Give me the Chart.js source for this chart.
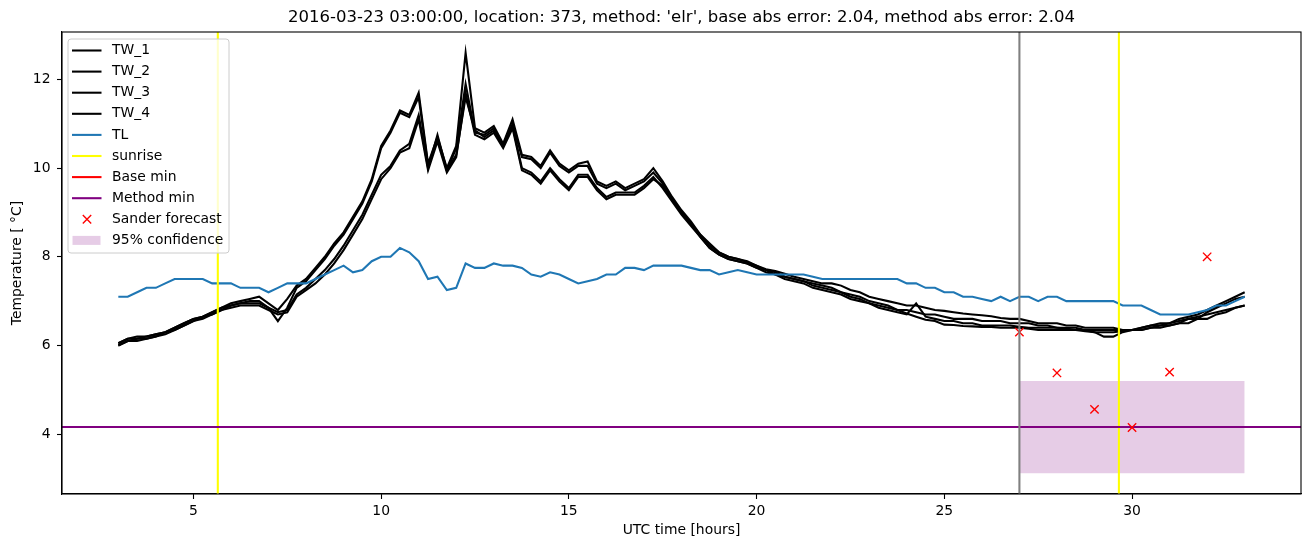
<!DOCTYPE html>
<html>
<head>
<meta charset="utf-8">
<script src="https://cdn.jsdelivr.net/npm/chart.js@4.4.1/dist/chart.umd.min.js"></script>
<style>
  body { margin: 0; background: #fff; }
  #chart { display: block; }
</style>
</head>
<body>
<canvas id="chart" width="1310" height="547"></canvas>
<script>
// sampling grid, every 15 minutes from 03:00 to 33:00
const hours = Array.from({ length: 121 }, (_, i) => 3 + i * 0.25);

const tw1 = [
  6.05, 6.15, 6.15, 6.2,   6.25, 6.3, 6.4, 6.5,    6.6, 6.65, 6.75, 6.85,
  6.95, 7.0, 7.05, 7.1,    6.95, 6.8, 7.05, 7.35,  7.5, 7.75, 8.0, 8.3,
  8.55, 8.9, 9.25, 9.75,   10.5, 10.85, 11.3, 11.2, 11.7, 10.1, 10.7, 10.0,
  10.5, 12.6, 10.9, 10.8,  10.95, 10.55, 11.1, 10.3, 10.25, 10.05, 10.4, 10.1,
  9.95, 10.1, 10.15, 9.7,  9.6, 9.7, 9.55, 9.65,   9.75, 10.0, 9.7, 9.35,
  9.05, 8.8, 8.5, 8.25,    8.1, 8.0, 7.95, 7.88,   7.8, 7.72, 7.68, 7.62,
  7.55, 7.5, 7.45, 7.4,    7.4, 7.35, 7.25, 7.2,   7.1, 7.05, 7.0, 6.95,
  6.9, 6.9, 6.85, 6.8,     6.78, 6.75, 6.72, 6.7,  6.68, 6.66, 6.62, 6.6,
  6.6, 6.55, 6.5, 6.5,     6.5, 6.45, 6.45, 6.4,   6.4, 6.4, 6.4, 6.35,
  6.35, 6.4, 6.45, 6.5,    6.5, 6.6, 6.65, 6.7,    6.8, 6.9, 7.0, 7.1,
  7.2
];
const tw2 = [
  6.0, 6.1, 6.15, 6.15,    6.2, 6.3, 6.35, 6.45,   6.55, 6.65, 6.7, 6.8,
  6.9, 6.95, 7.0, 7.0,     6.85, 6.55, 6.85, 7.3,  7.45, 7.7, 7.95, 8.25,
  8.5, 8.85, 9.2, 9.7,     10.45, 10.8, 11.25, 11.15, 11.6, 10.05, 10.65, 9.95,
  10.45, 11.9, 10.8, 10.75, 10.9, 10.5, 11.0, 10.25, 10.2, 10.0, 10.35, 10.05,
  9.9, 10.05, 10.05, 9.65, 9.55, 9.65, 9.5, 9.6,   9.7, 9.9, 9.65, 9.3,
  9.0, 8.75, 8.45, 8.2,    8.05, 7.95, 7.9, 7.85,  7.75, 7.7, 7.6, 7.55,
  7.5, 7.45, 7.4, 7.35,    7.3, 7.2, 7.15, 7.1,    7.0, 6.95, 6.9, 6.8,
  6.8, 6.75, 6.7, 6.7,     6.65, 6.6, 6.6, 6.6,    6.55, 6.55, 6.55, 6.5,
  6.5, 6.5, 6.45, 6.45,    6.4, 6.4, 6.4, 6.35,    6.3, 6.2, 6.2, 6.3,
  6.35, 6.35, 6.4, 6.45,   6.45, 6.5, 6.6, 6.6,    6.75, 6.85, 6.95, 7.05,
  7.1
];
const tw3 = [
  6.05, 6.15, 6.2, 6.2,    6.25, 6.3, 6.4, 6.5,    6.6, 6.65, 6.75, 6.85,
  6.9, 6.95, 6.95, 6.95,   6.85, 6.75, 6.8, 7.15,  7.3, 7.5, 7.7, 7.95,
  8.25, 8.6, 8.95, 9.4,    9.85, 10.05, 10.4, 10.55, 11.2, 10.0, 10.75, 9.95,
  10.3, 11.6, 10.85, 10.7, 10.85, 10.5, 10.95, 10.0, 9.9, 9.7, 10.0, 9.75,
  9.55, 9.85, 9.85, 9.55,  9.35, 9.45, 9.45, 9.45, 9.6, 9.8, 9.55, 9.25,
  8.95, 8.7, 8.45, 8.2,    8.05, 7.95, 7.9, 7.85,  7.75, 7.65, 7.6, 7.5,
  7.45, 7.4, 7.3, 7.25,    7.2, 7.15, 7.05, 7.0,   6.95, 6.85, 6.8, 6.75,
  6.7, 6.95, 6.65, 6.6,    6.55, 6.55, 6.5, 6.5,   6.45, 6.45, 6.45, 6.45,
  6.42, 6.4, 6.4, 6.4,     6.4, 6.38, 6.35, 6.35,  6.35, 6.35, 6.35, 6.35,
  6.35, 6.35, 6.4, 6.4,    6.45, 6.5, 6.5, 6.6,    6.6, 6.7, 6.75, 6.85,
  6.9
];
const tw4 = [
  6.0, 6.1, 6.1, 6.15,     6.2, 6.25, 6.35, 6.45,  6.55, 6.6, 6.7, 6.8,
  6.85, 6.9, 6.9, 6.9,     6.8, 6.7, 6.75, 7.1,    7.25, 7.4, 7.6, 7.85,
  8.15, 8.5, 8.85, 9.3,    9.75, 10.0, 10.35, 10.45, 11.1, 9.95, 10.6, 9.9,
  10.25, 11.7, 10.75, 10.65, 10.8, 10.45, 10.9, 9.95, 9.85, 9.65, 9.95, 9.7,
  9.5, 9.8, 9.8, 9.5,      9.3, 9.4, 9.4, 9.4,     9.55, 9.75, 9.6, 9.3,
  9.0, 8.75, 8.5, 8.3,     8.1, 8.0, 7.95, 7.9,    7.8, 7.7, 7.65, 7.55,
  7.5, 7.45, 7.35, 7.3,    7.25, 7.2, 7.1, 7.05,   6.95, 6.9, 6.85, 6.8,
  6.72, 6.65, 6.58, 6.55,  6.47, 6.46, 6.44, 6.43, 6.42, 6.42, 6.4, 6.4,
  6.4, 6.38, 6.35, 6.35,   6.35, 6.35, 6.35, 6.32, 6.3, 6.3, 6.3, 6.32,
  6.35, 6.4, 6.45, 6.45,   6.5, 6.55, 6.6, 6.65,   6.7, 6.75, 6.8, 6.85,
  6.9
];
const tl = [
  7.1, 7.1, 7.2, 7.3,      7.3, 7.4, 7.5, 7.5,     7.5, 7.5, 7.4, 7.4,
  7.4, 7.3, 7.3, 7.3,      7.2, 7.3, 7.4, 7.4,     7.4, 7.5, 7.6, 7.7,
  7.8, 7.65, 7.7, 7.9,     8.0, 8.0, 8.2, 8.1,     7.9, 7.5, 7.55, 7.25,
  7.3, 7.85, 7.75, 7.75,   7.85, 7.8, 7.8, 7.75,   7.6, 7.55, 7.65, 7.6,
  7.5, 7.4, 7.45, 7.5,     7.6, 7.6, 7.75, 7.75,   7.7, 7.8, 7.8, 7.8,
  7.8, 7.75, 7.7, 7.7,     7.6, 7.65, 7.7, 7.65,   7.6, 7.6, 7.6, 7.6,
  7.6, 7.6, 7.55, 7.5,     7.5, 7.5, 7.5, 7.5,     7.5, 7.5, 7.5, 7.5,
  7.4, 7.4, 7.3, 7.3,      7.2, 7.2, 7.1, 7.1,     7.05, 7.0, 7.1, 7.0,
  7.1, 7.1, 7.0, 7.1,      7.1, 7.0, 7.0, 7.0,     7.0, 7.0, 7.0, 6.9,
  6.9, 6.9, 6.8, 6.7,      6.7, 6.7, 6.7, 6.75,    6.8, 6.9, 6.9, 7.0,
  7.1
];

const sunrise = [5.65, 29.65];
const forecastTime = 27;
const baseMin = 4.16;
const methodMin = 4.16;
const sanderHours = [27, 28, 29, 30, 31, 32];
const sanderValues = [6.3, 5.38, 4.56, 4.15, 5.4, 8.0];
const confHours = [27, 33];
const confLow = 3.12;
const confHigh = 5.2;

const xMin = 1.5, xMax = 34.5;
const yMin = 2.65, yMax = 13.07;
const xTicks = [5, 10, 15, 20, 25, 30];
const yTicks = [4, 6, 8, 10, 12];

const FONT = "'DejaVu Sans', sans-serif";
const LW = 2.08;
const pts = arr => hours.map((h, i) => ({ x: h, y: arr[i] }));
const vline = x => [{ x: x, y: yMin }, { x: x, y: yMax }];
const hline = y => [{ x: xMin, y: y }, { x: xMax, y: y }];

const datasets = [
  { label: "TW_1", data: pts(tw1), borderColor: "#000", legend: "line" },
  { label: "TW_2", data: pts(tw2), borderColor: "#000", legend: "line" },
  { label: "TW_3", data: pts(tw3), borderColor: "#000", legend: "line" },
  { label: "TW_4", data: pts(tw4), borderColor: "#000", legend: "line" },
  { label: "TL", data: pts(tl), borderColor: "#1f77b4", legend: "line" },
  { label: "sunrise", data: vline(sunrise[0]), borderColor: "#ffff00", legend: "line" },
  { label: "", data: vline(sunrise[1]), borderColor: "#ffff00" },
  { label: "Base min", data: hline(baseMin), borderColor: "#ff0000", legend: "line" },
  { label: "Method min", data: hline(methodMin), borderColor: "#800080", legend: "line" },
  { label: "Sander forecast", data: sanderHours.map((h, i) => ({ x: h, y: sanderValues[i] })),
    showLine: false, pointStyle: "crossRot", pointRadius: 5.9, borderColor: "#ff0000",
    pointBorderWidth: 1.4, legend: "marker" },
  { label: "95% confidence", data: confHours.map(h => ({ x: h, y: confHigh })),
    borderWidth: 0, borderColor: "rgba(0,0,0,0)", backgroundColor: "rgba(128,0,128,0.2)",
    fill: { value: confLow }, legend: "patch" },
  { label: "", data: vline(forecastTime), borderColor: "#808080" }
];
// later datasets on top, like the original; the filled band stays underneath
datasets.forEach((d, i) => {
  d.order = d.legend === "patch" ? 100 : -i;
  if (d.borderWidth === undefined) d.borderWidth = LW;
  if (d.pointRadius === undefined) d.pointRadius = 0;
  if (d.fill === undefined) d.fill = false;
});

const framePlugin = {
  id: "frame",
  afterDraw(chart) {
    const { ctx, chartArea: a } = chart;
    ctx.save();
    ctx.strokeStyle = "#000";
    ctx.lineWidth = 1.1;
    ctx.strokeRect(a.left, a.top, a.right - a.left, a.bottom - a.top);

    // title
    ctx.fillStyle = "#000";
    ctx.font = "16.5px " + FONT;
    ctx.textAlign = "center";
    ctx.textBaseline = "middle";
    ctx.fillText("2016-03-23 03:00:00, location: 373, method: 'elr', base abs error: 2.04, method abs error: 2.04",
      (a.left + a.right) / 2, 18);

    // legend box
    const items = chart.data.datasets.filter(d => d.legend);
    const bx = a.left + 6, by = a.top + 7, bw = 161, bh = 214;
    ctx.beginPath();
    ctx.roundRect(bx, by, bw, bh, 3);
    ctx.fillStyle = "rgba(255,255,255,0.8)";
    ctx.fill();
    ctx.strokeStyle = "#cccccc";
    ctx.lineWidth = 1;
    ctx.stroke();
    ctx.font = "13.9px " + FONT;
    ctx.textAlign = "left";
    items.forEach((d, i) => {
      const y = by + 11.5 + i * 21.1;
      if (d.legend === "line") {
        ctx.strokeStyle = d.borderColor;
        ctx.lineWidth = LW;
        ctx.beginPath();
        ctx.moveTo(bx + 4, y);
        ctx.lineTo(bx + 33.5, y);
        ctx.stroke();
      } else if (d.legend === "marker") {
        ctx.strokeStyle = d.borderColor;
        ctx.lineWidth = 1.4;
        ctx.beginPath();
        ctx.moveTo(bx + 14.8, y - 4.2);
        ctx.lineTo(bx + 23.2, y + 4.2);
        ctx.moveTo(bx + 14.8, y + 4.2);
        ctx.lineTo(bx + 23.2, y - 4.2);
        ctx.stroke();
      } else {
        ctx.fillStyle = d.backgroundColor;
        ctx.fillRect(bx + 4.5, y - 4.5, 28, 9);
      }
      ctx.fillStyle = "#000";
      ctx.fillText(d.label, bx + 44, y);
    });
    ctx.restore();
  }
};

const axisCommon = {
  type: "linear",
  grid: { drawOnChartArea: false, tickLength: 5, color: "#000", tickWidth: 1.1 },
  border: { color: "#000", width: 1.1 },
  ticks: { color: "#000", font: { family: FONT, size: 13.9 }, maxRotation: 0 }
};

new Chart(document.getElementById("chart"), {
  type: "line",
  data: { datasets },
  plugins: [framePlugin],
  options: {
    responsive: false,
    animation: false,
    layout: { padding: { top: 32, right: 9, left: 0, bottom: 0 } },
    plugins: { legend: { display: false }, title: { display: false }, tooltip: { enabled: false } },
    elements: { line: { tension: 0 } },
    scales: {
      x: {
        ...axisCommon,
        min: xMin, max: xMax,
        ticks: { ...axisCommon.ticks, padding: 4.5 },
        afterFit: s => { s.height = 53; },
        afterBuildTicks: s => { s.ticks = xTicks.map(v => ({ value: v })); },
        title: { display: true, text: "UTC time [hours]", color: "#000",
          font: { family: FONT, size: 13.9 }, padding: { top: 0, bottom: 8 } }
      },
      y: {
        ...axisCommon,
        min: yMin, max: yMax,
        ticks: { ...axisCommon.ticks, padding: 6.5 },
        afterFit: s => { s.width = 62; },
        afterBuildTicks: s => { s.ticks = yTicks.map(v => ({ value: v })); },
        title: { display: true, text: "Temperature [ °C]", color: "#000",
          font: { family: FONT, size: 13.9 }, padding: { top: 9.5, bottom: 0 } }
      }
    }
  }
});
</script>
</body>
</html>
